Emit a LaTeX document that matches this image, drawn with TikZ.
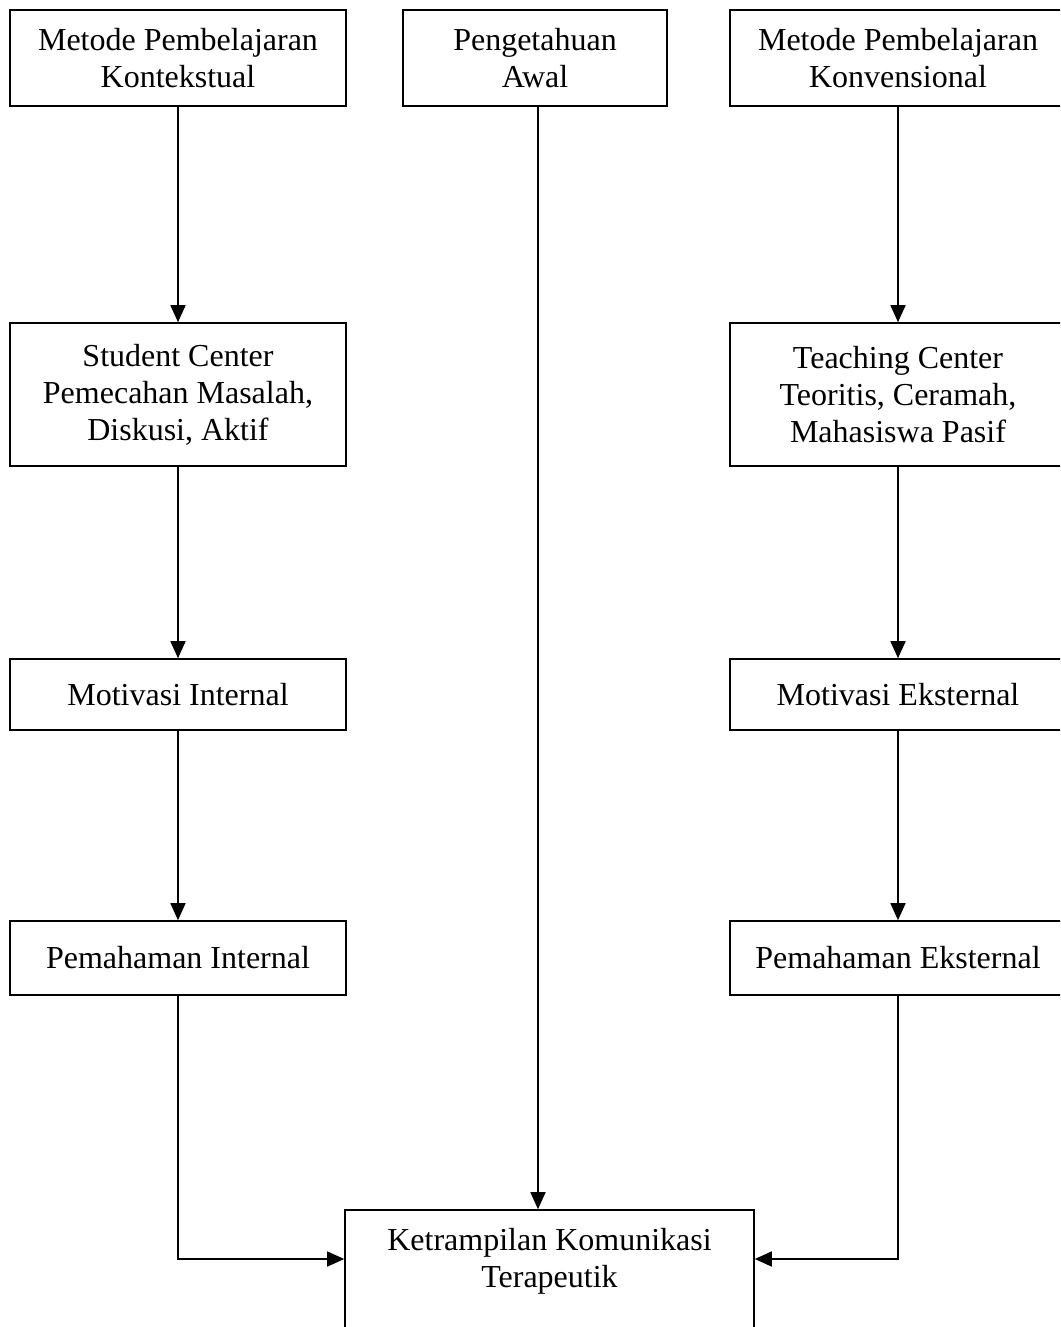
\documentclass[tikz,border=0pt]{standalone}
\usepackage{fontspec}
\setmainfont{Liberation Serif}
\usetikzlibrary{arrows.meta}
\begin{document}
\begin{tikzpicture}[x=1pt,y=1pt,
  box/.style={draw, line width=1.6pt, align=center, inner sep=0pt,
    font=\fontsize{32pt}{37pt}\selectfont},
  arr/.style={line width=1.6pt, -{Triangle[length=17pt,width=15pt]}}]
\useasboundingbox (0,0) rectangle (1060,-1327);
\clip (0,0) rectangle (1060,-1327);
\fill[white] (0,0) rectangle (1060,-1327);
% top row
\node[box, minimum width=336pt, minimum height=96pt] (k1) at (178,-58) {Metode Pembelajaran\\Kontekstual};
\node[box, minimum width=264pt, minimum height=96pt] (p1) at (535,-58) {Pengetahuan\\Awal};
\node[box, minimum width=336pt, minimum height=96pt] (k3) at (898,-58) {Metode Pembelajaran\\Konvensional};
% second row
\node[box, minimum width=336pt, minimum height=143pt] (s1) at (178,-394.5) {Student Center\\Pemecahan Masalah,\\Diskusi, Aktif};
\node[box, minimum width=336pt, minimum height=143pt] (s3) at (898,-394.5) {Teaching Center\\Teoritis, Ceramah,\\Mahasiswa Pasif};
% third row
\node[box, minimum width=336pt, minimum height=71pt] (m1) at (178,-694.5) {Motivasi Internal};
\node[box, minimum width=336pt, minimum height=71pt] (m3) at (898,-694.5) {Motivasi Eksternal};
% fourth row
\node[box, minimum width=336pt, minimum height=74pt] (u1) at (178,-958) {Pemahaman Internal};
\node[box, minimum width=336pt, minimum height=74pt] (u3) at (898,-958) {Pemahaman Eksternal};
% bottom
\node[box, minimum width=409pt, minimum height=143pt] (kt) at (549.5,-1281.5) {Ketrampilan Komunikasi\\Terapeutik\\\strut};
% arrows
\draw[arr] (k1) -- (s1);
\draw[arr] (s1) -- (m1);
\draw[arr] (m1) -- (u1);
\draw[arr] (k3) -- (s3);
\draw[arr] (s3) -- (m3);
\draw[arr] (m3) -- (u3);
\draw[arr] ([xshift=3pt]p1.south) -- ([xshift=3pt]p1.south |- kt.north);
\draw[arr] (u1.south) |- ([yshift=22.5pt]kt.west);
\draw[arr] (u3.south) |- ([yshift=22.5pt]kt.east);
\end{tikzpicture}
\end{document}
